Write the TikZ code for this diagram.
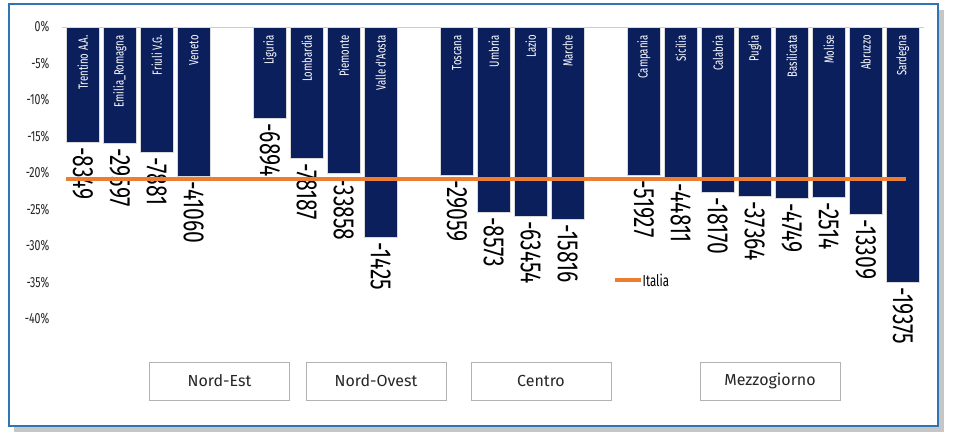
\documentclass[tikz,border=0pt]{standalone}
\usepackage{fontspec}
\setmainfont{Fira Sans}
\newfontfamily\cond[FakeStretch=0.72]{Fira Sans}
\definecolor{navy}{HTML}{0B1F5C}
\definecolor{orng}{HTML}{ED7D31}
\definecolor{frm}{HTML}{2E75B6}
\begin{document}
\begin{tikzpicture}[x=0.75pt,y=-0.75pt,
  bar/.style={fill=navy,draw=gray!30,line width=0.4pt},
  inlab/.style={rotate=90,anchor=east,text=white,font=\cond\fontsize{10}{10}\selectfont,inner sep=0pt},
  numlab/.style={rotate=-90,anchor=west,font=\cond\fontsize{22}{22}\selectfont,inner sep=0pt},
  ylab/.style={anchor=east,font=\cond\fontsize{11}{11}\selectfont,text=black!85},
  region/.style={draw=gray!60,fill=white,minimum width=105pt,minimum height=28.5pt,font=\fontsize{12}{12}\selectfont,text=black!85}]
\useasboundingbox (0,0) rectangle (954,441);
\fill[white] (0,0) rectangle (954,441);
\fill[gray!45] (14,10) rectangle (944,432);
\draw[frm,line width=1.5pt,fill=white] (9,4) rectangle (938,426);
\draw[gray!40] (62,27) -- (924,27);
\foreach \v [count=\i from 0] in {0\%,-5\%,-10\%,-15\%,-20\%,-25\%,-30\%,-35\%,-40\%}
  \node[ylab] (y\i) at (54,27+36.5*\i) {\v};
\foreach \nm/\xx/\bt/\nu [count=\k] in {
 Trentino A.A./66/142/-8349, Emilia\_Romagna/103/143/-29597, Friuli V.G./140/152/-7881, Veneto/177/176/-41060,
 Liguria/253/118/-6894, Lombardia/290/158/-78187, Piemonte/327/173/-33858, Valle d'Aosta/364/237/-1425,
 Toscana/440/175/-29059, Umbria/477/212/-8573, Lazio/514/216/-63454, Marche/551/219/-15816,
 Campania/627/175/-51927, Sicilia/664/178/-44811, Calabria/701/192/-18170, Puglia/738/196/-37364,
 Basilicata/775/198/-4749, Molise/812/197/-2514, Abruzzo/849/214/-13309, Sardegna/886/282/-19375}{
  \draw[bar] (\xx,27) rectangle (\xx+33.5,\bt);
  \node[inlab] (l\k) at (\xx+16.75,35) {\nm};
  \node[numlab] (n\k) at (\xx+16.75,\bt+5) {\nu};
}
\coordinate (ia) at (66,179); \coordinate (ib) at (906,179);
\draw[orng,line width=2.6pt] (ia) -- (ib);
\coordinate (la) at (615,280); \coordinate (lb) at (641,280);
\draw[orng,line width=2.6pt] (la) -- (lb);
\node[anchor=west,font=\cond\fontsize{12}{12}\selectfont,inner sep=1pt] (leg) at (lb) {Italia};
\node[region] (r1) at (219.5,381) {Nord-Est};
\node[region] (r2) at (376,381) {Nord-Ovest};
\node[region] (r3) at (541,381) {Centro};
\node[region] (r4) at (770,381) {Mezzogiorno};
\end{tikzpicture}
\end{document}
